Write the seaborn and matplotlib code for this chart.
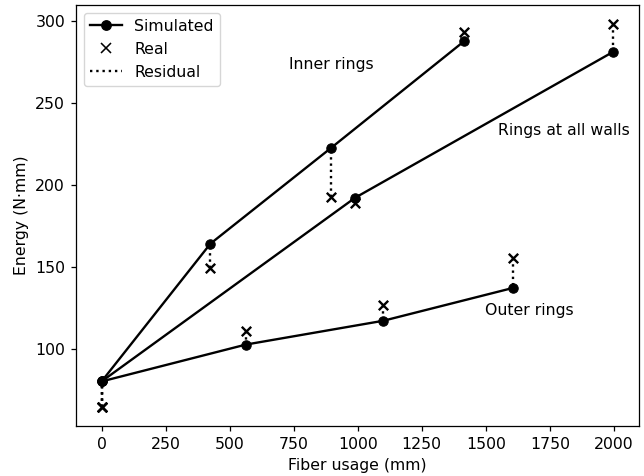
import pandas as pd
import matplotlib
matplotlib.use("Agg")
import matplotlib.pyplot as plt
import seaborn as sns
from matplotlib.lines import Line2D

# fiber usage (mm), simulated and real energy (N·mm) per configuration
inner_fiber = [0, 425, 897, 1416]
inner_sim = [80.5, 164.5, 223, 288]
inner_real = [65, 149.5, 193, 293.5]

walls_fiber = [0, 990, 1998]
walls_sim = [80.5, 192.5, 281.5]
walls_real = [65, 189.5, 298.5]

outer_fiber = [0, 564, 1100, 1606]
outer_sim = [80.5, 103, 117.5, 137.5]
outer_real = [65, 111.5, 127, 155.5]

config_names = ["Inner rings", "Rings at all walls", "Outer rings"]
label_x = [899, 1805, 1669]
label_y = [273.5, 233.5, 124]

SCALE = 1.13


def main():
    plt.rcParams.update({
        "font.size": 10 * SCALE,
        "axes.linewidth": 0.8 * SCALE,
        "xtick.major.size": 3.5 * SCALE,
        "ytick.major.size": 3.5 * SCALE,
        "xtick.major.width": 0.8 * SCALE,
        "ytick.major.width": 0.8 * SCALE,
        "xtick.major.pad": 3.5 * SCALE,
        "ytick.major.pad": 3.5 * SCALE,
        "axes.labelpad": 4 * SCALE,
    })

    frames = []
    for name, fib, sim, real in zip(
        config_names,
        [inner_fiber, walls_fiber, outer_fiber],
        [inner_sim, walls_sim, outer_sim],
        [inner_real, walls_real, outer_real],
    ):
        frames.append(pd.DataFrame({
            "config": name,
            "fiber": fib,
            "sim": sim,
            "real": real,
        }))
    df = pd.concat(frames, ignore_index=True)

    fig, ax = plt.subplots(figsize=(6.44, 4.76), dpi=100)

    lw = 1.5 * SCALE

    # residuals
    ax.vlines(df["fiber"], df["real"], df["sim"], colors="black",
              linestyles=":", linewidth=lw, zorder=1)

    # simulated curves
    sns.lineplot(
        data=df, x="fiber", y="sim", units="config", estimator=None,
        sort=False, color="black", marker="o", markersize=6 * SCALE,
        markeredgecolor="black", linewidth=lw, ax=ax, zorder=2,
    )

    # real measurements
    sns.scatterplot(
        data=df, x="fiber", y="real", marker="x", color="black",
        s=36 * SCALE ** 2, linewidth=lw, ax=ax, zorder=3,
    )

    for name, lx, ly in zip(config_names, label_x, label_y):
        ax.text(lx, ly, name, ha="center", va="center")

    ax.set_xlabel("Fiber usage (mm)")
    ax.set_ylabel("Energy (N·mm)")
    ax.set_xticks([0, 250, 500, 750, 1000, 1250, 1500, 1750, 2000])
    ax.set_yticks([100, 150, 200, 250, 300])

    handles = [
        Line2D([], [], color="black", marker="o", markersize=6 * SCALE,
               linewidth=lw),
        Line2D([], [], color="black", marker="x", linestyle="none",
               markersize=6 * SCALE, markeredgewidth=1.0 * SCALE),
        Line2D([], [], color="black", linestyle=":", linewidth=lw),
    ]
    ax.legend(handles, ["Simulated", "Real", "Residual"], loc="upper left")

    fig.subplots_adjust(left=0.118, right=0.992, top=0.99, bottom=0.105)
    fig.savefig("out.png", dpi=100)


if __name__ == "__main__":
    main()
